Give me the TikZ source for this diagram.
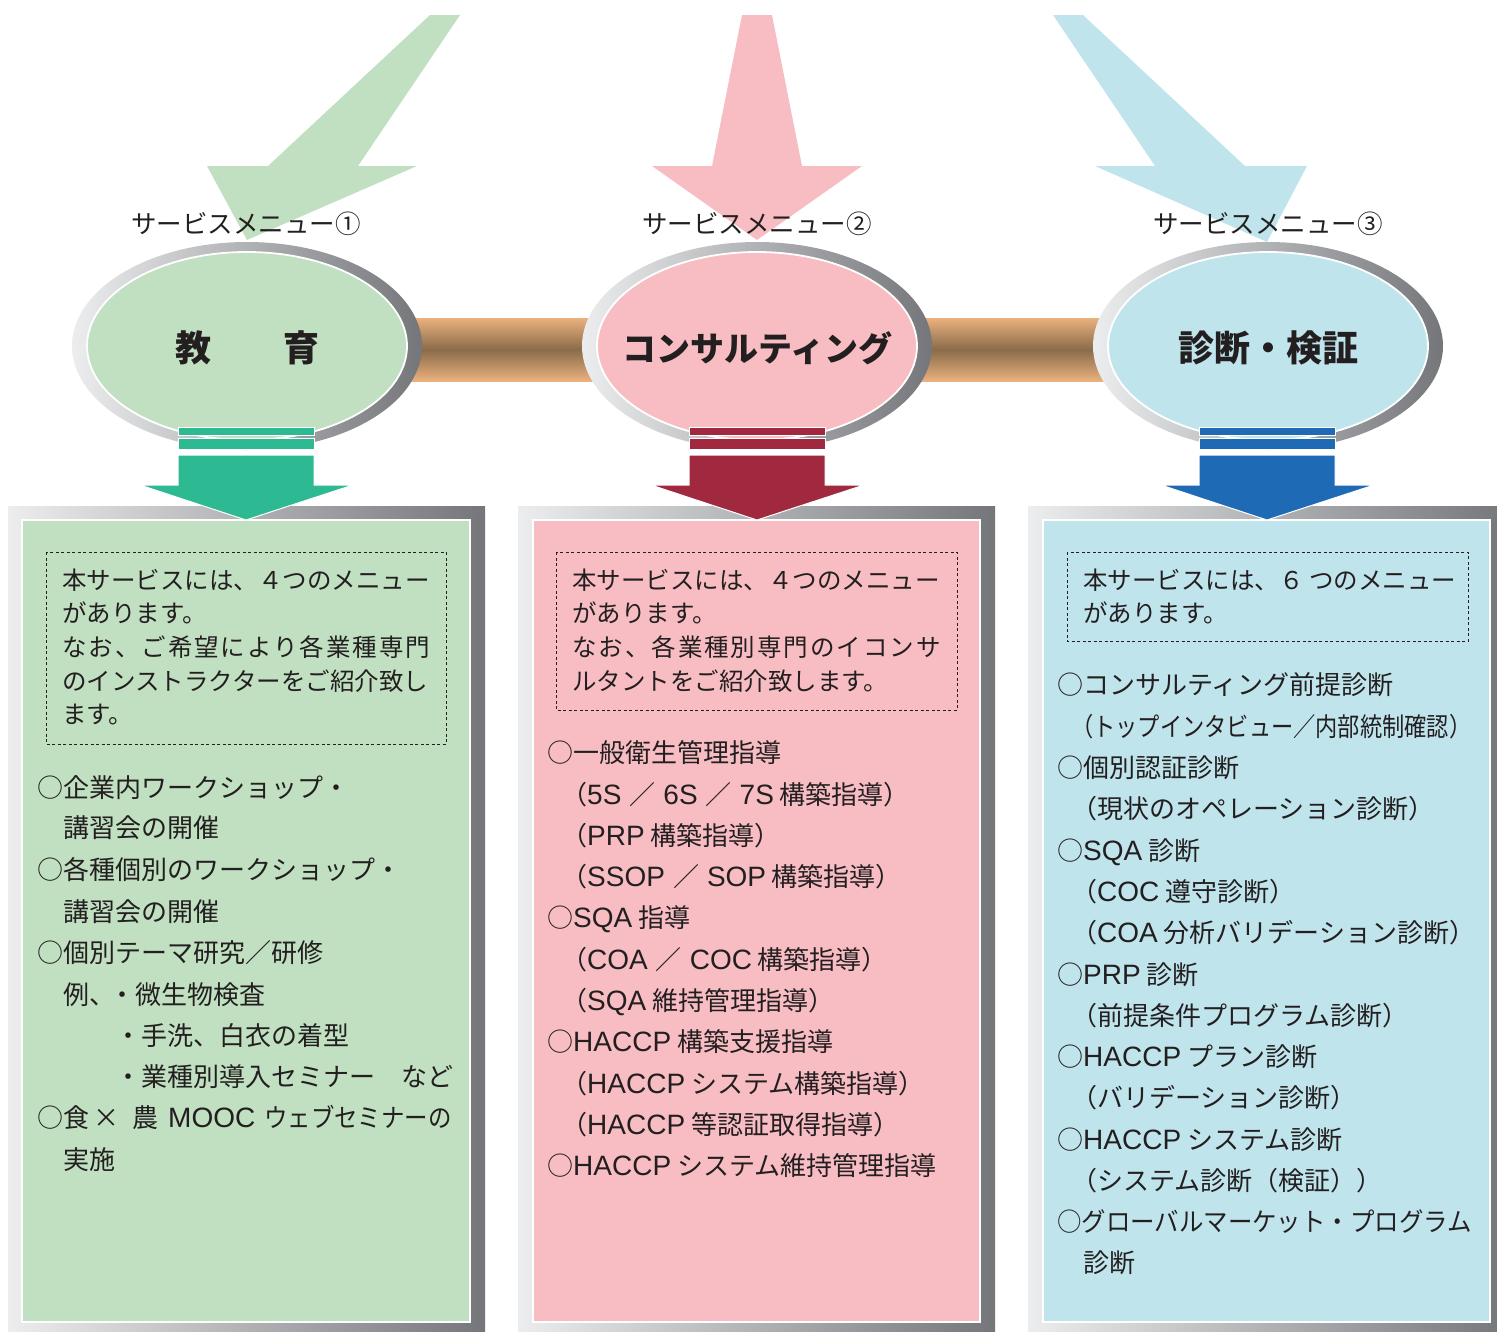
\documentclass[tikz,border=0pt]{standalone}
\usepackage{fontspec}
\usepackage{graphicx}
\newfontfamily\jp{Noto Sans CJK JP}
\newfontfamily\jpwide[LetterSpace=8]{Noto Sans CJK JP}
\newfontfamily\latf{Liberation Sans}
\newcommand\lat[1]{{\latf\fontsize{28}{30}\selectfont #1}}
\definecolor{gL}{HTML}{C0E0C1}
\definecolor{pL}{HTML}{F7BDC3}
\definecolor{bL}{HTML}{C0E4EC}
\definecolor{gD}{HTML}{2DBA93}
\definecolor{pD}{HTML}{A0283F}
\definecolor{bD}{HTML}{1F6AB4}
\definecolor{ringL}{HTML}{ECEDEE}
\definecolor{ringR}{HTML}{75767A}
\definecolor{barL}{HTML}{EAB17E}
\definecolor{barD}{HTML}{8A6B4A}
\definecolor{txt}{HTML}{231F20}
\tikzset{
  jt/.style={anchor=west, inner sep=0pt, text=txt, text height=22pt, text depth=3pt,
    font=\jp\fontsize{26}{30}\selectfont},
  jd/.style={anchor=west, inner sep=0pt, text=txt, text height=21pt, text depth=3pt,
    font=\jp\fontsize{24.5}{30}\selectfont},
  jdw/.style={jd, font=\jpwide\fontsize{24.5}{30}\selectfont},
  menulbl/.style={inner sep=0pt, text=txt, font=\jp\fontsize{25.5}{30}\selectfont},
  title/.style={inner sep=0pt, text=txt, font=\jp\bfseries\fontsize{36}{40}\selectfont},
  dbox/.style={draw=txt, line width=1pt, dash pattern=on 3pt off 2.5pt},
  inbox/.style={draw=white, line width=1.5pt},
  darr/.style={draw=white, line width=1pt},
}
\begin{document}
\begin{tikzpicture}[x=1pt,y=-1pt]
\useasboundingbox (0,0) rectangle (1497,1331);
\clip (0,0) rectangle (1497,1331);

% ---- top arrows
\fill[gL] (430,15) -- (460,15) -- (358,166) -- (417,166) -- (247,240) -- (207,166) -- (268,166) -- cycle;
\fill[pL] (742,15) -- (772,15) -- (802,166) -- (862,166) -- (757,240) -- (652,166) -- (712,166) -- cycle;
\fill[bL] (1053,15) -- (1083,15) -- (1245,166) -- (1307,166) -- (1267,242) -- (1095,166) -- (1155,166) -- cycle;

\node[menulbl] (m1) at (246,224) {サービスメニュー①};
\node[menulbl] (m2) at (757,224) {サービスメニュー②};
\node[menulbl] (m3) at (1268,224) {サービスメニュー③};

% ---- connecting bars
\shade[top color=barL, bottom color=barL, middle color=barD] (405,318) rectangle (600,381);
\shade[top color=barL, bottom color=barL, middle color=barD] (915,318) rectangle (1110,381);

% ---- ellipses
\foreach \cx/\col in {247/gL, 757/pL, 1268/bL}{
  \shade[left color=ringL, right color=ringR] (\cx,346) ellipse [x radius=175pt, y radius=104pt];
  \filldraw[fill=\col, draw=white, line width=1.8pt] (\cx,346) ellipse [x radius=160pt, y radius=94pt];
}
\node[title] (t1) at (247,348) {教　　育};
\node[title, font=\jp\bfseries\fontsize{34}{40}\selectfont] (t2) at (757,348) {コンサルティング};
\node[title] (t3) at (1268,348) {診断・検証};

% ---- boxes
\shade[left color=ringL, right color=ringR] (8,506) rectangle (485,1331);
\filldraw[fill=gL, inbox] (22,520) rectangle (470,1322);
\shade[left color=ringL, right color=ringR] (518,506) rectangle (995,1331);
\filldraw[fill=pL, inbox] (533,520) rectangle (980,1322);
\shade[left color=ringL, right color=ringR] (1028,506) rectangle (1510,1331);
\filldraw[fill=bL, inbox] (1043,520) rectangle (1490,1322);

% ---- stripes and down arrows
\foreach \dx/\col in {0/gD, 511/pD, 1021/bD}{
  \begin{scope}[xshift=\dx pt]
  \filldraw[fill=\col, darr] (178,427) rectangle (314,435);
  \filldraw[fill=\col, darr] (178,438) rectangle (314,449);
  \filldraw[fill=\col, darr] (178,455) -- (314,455) -- (314,485) -- (353,485) -- (246,520) -- (140,485) -- (178,485) -- cycle;
  \end{scope}
}

% ---- dashed boxes
\draw[dbox] (46,552) rectangle (446,744);
\draw[dbox] (556,552) rectangle (957,710);
\draw[dbox] (1067,552) rectangle (1468,641);

% ---- left texts
\node[jd]  (l1) at (62,580) {本サービスには、４つのメニュー};
\node[jd]  (l2) at (62,613) {があります。};
\node[jdw] (l3) at (62,647) {なお、ご希望により各業種専門};
\node[jd]  (l4) at (62,681) {のインストラクターをご紹介致し};
\node[jd]  (l5) at (62,714) {ます。};

\node[jt] (a1)  at (37,788)  {○企業内ワークショップ・};
\node[jt] (a2)  at (37,828)  {　講習会の開催};
\node[jt] (a3)  at (37,870)  {○各種個別のワークショップ・};
\node[jt] (a4)  at (37,912)  {　講習会の開催};
\node[jt] (a5)  at (37,953)  {○個別テーマ研究／研修};
\node[jt] (a6)  at (37,995)  {　例、\hspace{-6pt}・微生物検査};
\node[jt] (a7)  at (37,1036) {　　　・手洗、白衣の着型};
\node[jt] (a8)  at (37,1077) {　　　・業種別導入セミナー　など};
\node[jt] (a9)  at (37,1118) {○食\hspace{4pt}×\hspace{13pt}農\hspace{10pt}\lat{MOOC}\hspace{9pt}\scalebox{0.9}[1]{ウェブセミナーの}};
\node[jt] (a10) at (37,1160) {　実施};

% ---- middle texts
\node[jd]  (c1) at (572,580) {本サービスには、４つのメニュー};
\node[jd]  (c2) at (572,613) {があります。};
\node[jdw] (c3) at (572,647) {なお、各業種別専門のイコンサ};
\node[jd]  (c4) at (572,681) {ルタントをご紹介致します。};

\node[jt] (b1)  at (547,753)  {○一般衛生管理指導};
\node[jt] (b2)  at (561,795)  {（\lat{5S}\hspace{8pt}／\hspace{8pt}\lat{6S}\hspace{8pt}／\hspace{8pt}\lat{7S} 構築指導）};
\node[jt] (b3)  at (561,836)  {（\lat{PRP} 構築指導）};
\node[jt] (b4)  at (561,877)  {（\lat{SSOP}\hspace{8pt}／\hspace{8pt}\lat{SOP} 構築指導）};
\node[jt] (b5)  at (547,918)  {○\lat{SQA} 指導};
\node[jt] (b6)  at (561,960)  {（\lat{COA}\hspace{8pt}／\hspace{8pt}\lat{COC} 構築指導）};
\node[jt] (b7)  at (561,1001) {（\lat{SQA} 維持管理指導）};
\node[jt] (b8)  at (547,1042) {○\lat{HACCP} 構築支援指導};
\node[jt] (b9)  at (561,1084) {（\lat{HACCP} システム構築指導）};
\node[jt] (b10) at (561,1125) {（\lat{HACCP} 等認証取得指導）};
\node[jt] (b11) at (547,1166) {○\lat{HACCP} システム維持管理指導};

% ---- right texts
\node[jd] (r1) at (1083,580) {本サービスには、６ つのメニュー};
\node[jd] (r2) at (1083,613) {があります。};

\node[jt] (d1)  at (1057,685)  {○コンサルティング前提診断};
\node[jt] (d2)  at (1071,727)  {\scalebox{0.855}[1]{（トップインタビュー／内部統制確認）}};
\node[jt] (d3)  at (1057,768)  {○個別認証診断};
\node[jt] (d4)  at (1071,809)  {（現状のオペレーション診断）};
\node[jt] (d5)  at (1057,851)  {○\lat{SQA} 診断};
\node[jt] (d6)  at (1071,892)  {（\lat{COC} 遵守診断）};
\node[jt] (d7)  at (1071,933)  {（\lat{COA} 分析バリデーション診断）};
\node[jt] (d8)  at (1057,975)  {○\lat{PRP} 診断};
\node[jt] (d9)  at (1071,1016) {（前提条件プログラム診断）};
\node[jt] (d10) at (1057,1057) {○\lat{HACCP} プラン診断};
\node[jt] (d11) at (1071,1098) {（バリデーション診断）};
\node[jt] (d12) at (1057,1140) {○\lat{HACCP} システム診断};
\node[jt] (d13) at (1071,1181) {（システム診断（検証））};
\node[jt] (d14) at (1057,1222) {\scalebox{0.94}[1]{○グローバルマーケット・プログラム}};
\node[jt] (d15) at (1057,1263) {　診断};
\end{tikzpicture}
\end{document}
